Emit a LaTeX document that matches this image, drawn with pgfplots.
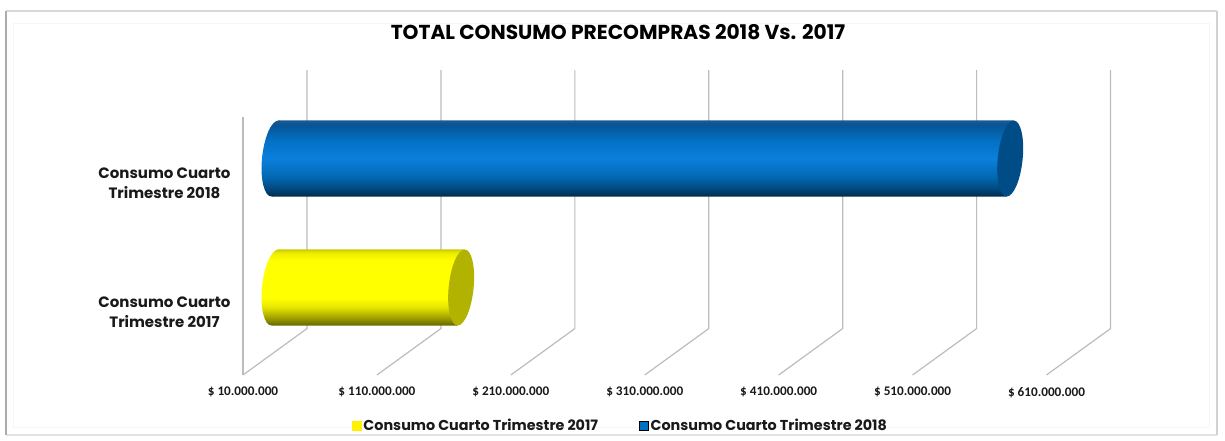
\documentclass[border=0pt]{standalone}
\usepackage{fontspec}
\usepackage{pgfplots}
\pgfplotsset{compat=1.18}
\setmainfont{Poppins}
\newfontfamily\calibri{Carlito}

% bar gradients: the middle 25bp-75bp of a shading is what fits the path
\definecolor{gridgray}{HTML}{BCBCBC}
\pgfdeclareverticalshading{bluecyl}{100bp}{
  rgb(0bp)=(0.01,0.17,0.30);
  rgb(25bp)=(0.01,0.17,0.30);
  rgb(31bp)=(0.00,0.30,0.52);
  rgb(38bp)=(0.01,0.41,0.70);
  rgb(50bp)=(0.04,0.50,0.86);
  rgb(62bp)=(0.01,0.44,0.77);
  rgb(72bp)=(0.03,0.33,0.58);
  rgb(75bp)=(0.10,0.35,0.58);
  rgb(100bp)=(0.10,0.35,0.58)}
\pgfdeclareverticalshading{yellowcyl}{100bp}{
  rgb(0bp)=(0.40,0.40,0.00);
  rgb(25bp)=(0.40,0.40,0.00);
  rgb(30bp)=(0.62,0.62,0.00);
  rgb(37bp)=(0.90,0.90,0.00);
  rgb(43bp)=(1,1,0);
  rgb(68bp)=(1,1,0);
  rgb(73bp)=(0.92,0.92,0.00);
  rgb(75bp)=(0.80,0.80,0.00);
  rgb(100bp)=(0.80,0.80,0.00)}

% skewed ellipses for the two ends of a cylinder
\pgfdeclareplotmark{capblueleft}{\pgfpathellipse{\pgfpointorigin}{\pgfqpoint{13pt}{0pt}}{\pgfqpoint{3.5pt}{38pt}}\pgfshadepath{bluecyl}{0}\pgfusepath{discard}}
\pgfdeclareplotmark{capyellowleft}{\pgfpathellipse{\pgfpointorigin}{\pgfqpoint{13pt}{0pt}}{\pgfqpoint{3.5pt}{38pt}}\pgfshadepath{yellowcyl}{0}\pgfusepath{discard}}
\pgfdeclareplotmark{capend}{\pgfpathellipse{\pgfpointorigin}{\pgfqpoint{12.5pt}{0pt}}{\pgfqpoint{3.5pt}{38pt}}\pgfusepath{fill}}

\begin{document}
\begin{tikzpicture}
  \path[use as bounding box] (0,0) rectangle (1225pt,441pt);
  % frame
  \draw[line width=0.8pt,draw=gray!7] (13pt,14pt) rectangle (1209pt,418pt);
  \draw[line width=1.2pt,draw=gray!30] (6pt,430pt) -- (1217pt,430pt);
  \draw[line width=2pt,draw=gray!22] (6pt,6pt) -- (1217pt,6pt);
  \draw[line width=1.5pt,draw=gray!35] (1217pt,6pt) -- (1217pt,430pt);
  \draw[line width=2.5pt,draw=gray!65] (6pt,6pt) -- (6pt,430pt);
  \begin{axis}[
    at={(243pt,66pt)}, anchor=south west,
    scale only axis, width=803.5pt, height=258pt,
    xmin=10, xmax=610, ymin=-0.5, ymax=1.5,
    clip=false,
    axis x line*=bottom, axis y line*=left,
    axis line style={-},
    x axis line style={draw=none},
    y axis line style={draw=gridgray,line width=1.2pt},
    major tick length=0pt,
    xtick={10,110,210,310,410,510,610},
    xticklabels={\$ 10.000.000,\$ 110.000.000,\$ 210.000.000,\$ 310.000.000,\$ 410.000.000,\$ 510.000.000,\$ 610.000.000},
    x tick label style={font=\calibri\bfseries\fontsize{13.2}{15}\selectfont,text=black!90,yshift=-8.5pt},
    ytick={0,1},
    yticklabels={{Consumo Cuarto\\Trimestre 2017},{Consumo Cuarto\\Trimestre 2018}},
    y tick label style={font=\bfseries\fontsize{15}{20}\selectfont,align=center,text=black!90,xshift=-9pt,yshift=-2pt},
    title={TOTAL CONSUMO PRECOMPRAS 2018 Vs. 2017},
    title style={at={(0.4667,1.3062)},anchor=center,yshift=0pt,font=\bfseries\fontsize{20.2}{24}\selectfont,text=black},
    legend columns=2,
    legend style={at={(0.4698,-0.195)},anchor=center,draw=none,fill=none,
      font=\bfseries\fontsize{14.35}{17}\selectfont,text=black!90,
      /tikz/every even column/.append style={column sep=39pt}},
    unbounded coords=jump,
    ]
    % gridlines: front floor point, back floor point, back top
    \addplot[forget plot,draw=gridgray,line width=1.2pt] coordinates {
      (10,-0.5)(57.8,-0.14)(57.8,1.864)(57.8,nan)
      (110,-0.5)(157.8,-0.14)(157.8,1.864)(157.8,nan)
      (210,-0.5)(257.8,-0.14)(257.8,1.864)(257.8,nan)
      (310,-0.5)(357.8,-0.14)(357.8,1.864)(357.8,nan)
      (410,-0.5)(457.8,-0.14)(457.8,1.864)(457.8,nan)
      (510,-0.5)(557.8,-0.14)(557.8,1.864)(557.8,nan)
      (610,-0.5)(657.8,-0.14)(657.8,1.864)};
    % left rounded ends
    \addplot[forget plot,only marks,mark=capyellowleft,xshift=32pt,yshift=23pt] coordinates {(10,0)};
    \addplot[forget plot,only marks,mark=capblueleft,xshift=32pt,yshift=23pt] coordinates {(10,1)};
    % bars, slanted like the ends: 10 and 149 (yellow), 10 and 559 (blue), half height 0.2946
    \addplot[forget plot,draw=none,shading=yellowcyl,shading angle=0,xshift=32pt,yshift=23pt] coordinates {
      (12.6,0.2946)(151.6,0.2946)(146.4,-0.2946)(7.4,-0.2946)} --cycle;
    \addplot[forget plot,draw=none,shading=bluecyl,shading angle=0,xshift=32pt,yshift=23pt] coordinates {
      (12.6,1.2946)(561.6,1.2946)(556.4,0.7054)(7.4,0.7054)} --cycle;
    % right ends
    \addplot[forget plot,only marks,mark=capend,color={rgb,1:red,0.70;green,0.70;blue,0.00},xshift=32pt,yshift=23pt] coordinates {(149,0)};
    \addplot[forget plot,only marks,mark=capend,color={rgb,1:red,0.00;green,0.30;blue,0.53},xshift=32pt,yshift=23pt] coordinates {(559,1)};
    \addlegendimage{legend image code/.code={\fill[yellow] (0pt,-4.5pt) rectangle (9pt,4.5pt);}}
    \addlegendentry{Consumo Cuarto Trimestre 2017}
    \addlegendimage{legend image code/.code={\fill[fill={rgb,1:red,0;green,0.44;blue,0.75}] (0pt,-4.5pt) rectangle (9pt,4.5pt);}}
    \addlegendentry{Consumo Cuarto Trimestre 2018}
  \end{axis}
\end{tikzpicture}
\end{document}
